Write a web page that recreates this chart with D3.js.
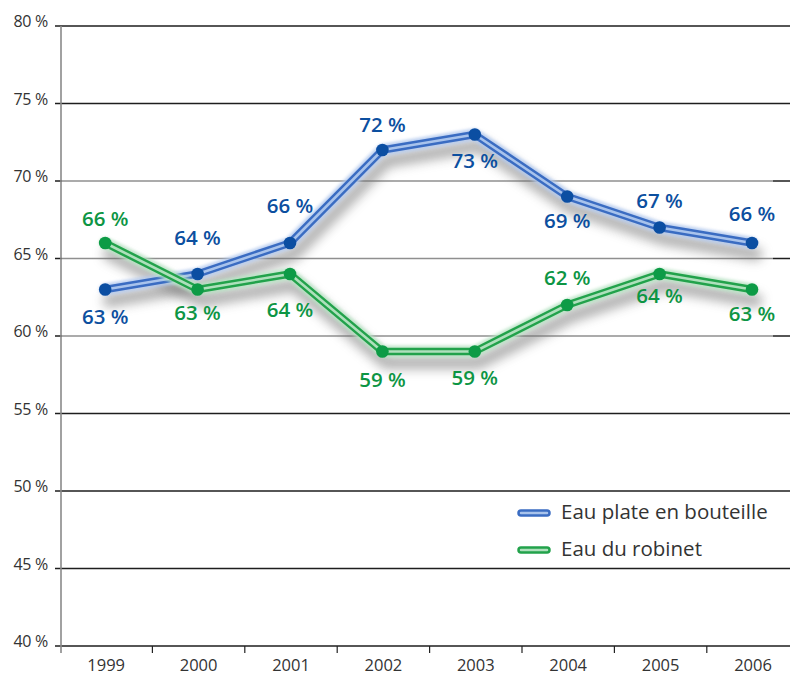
<!DOCTYPE html>
<html>
<head>
<meta charset="utf-8">
<script src="https://cdn.jsdelivr.net/npm/d3@7"></script>
<style>
  html, body { margin: 0; padding: 0; background: #fff; }
  svg { display: block; }
  text { font-family: "Open Sans", "Noto Sans", sans-serif; }
</style>
</head>
<body>
<svg id="chart" width="790" height="676"></svg>
<script>
// Share of respondents, by year
const years = ["1999", "2000", "2001", "2002", "2003", "2004", "2005", "2006"];
const bottled = [63, 64, 66, 72, 73, 69, 67, 66];   // Eau plate en bouteille
const tap     = [66, 63, 64, 59, 59, 62, 64, 63];   // Eau du robinet
const yTicks  = [40, 45, 50, 55, 60, 65, 70, 75, 80];
const seriesNames = ["Eau plate en bouteille", "Eau du robinet"];

// Vertical offset of each value label from its point (px, baseline)
const bottledLabelDy = [34, -29, -30, -18, 33, 31, -20, -22];
const tapLabelDy     = [-17, 30, 43, 35, 33, -20, 29, 31];

const svg = d3.select("#chart");
const W = 790, H = 676;
const plotLeft = 60, plotTop = 26, plotBottom = 646;
const bandW = 92.4;

const x = d3.scaleBand().domain(years).range([plotLeft, plotLeft + bandW * years.length]).padding(0);
const y = d3.scaleLinear().domain([40, 80]).range([plotBottom, plotTop]);
const cx = d => x(d) + x.bandwidth() / 2 - 1;

const defs = svg.append("defs");
defs.append("filter").attr("id", "shadowBlur")
  .attr("x", "-20%").attr("y", "-50%").attr("width", "140%").attr("height", "200%")
  .append("feGaussianBlur").attr("stdDeviation", 5.5);
defs.append("filter").attr("id", "glow")
  .attr("x", "-20%").attr("y", "-50%").attr("width", "140%").attr("height", "200%")
  .append("feGaussianBlur").attr("stdDeviation", 1.4);

// Horizontal gridlines
svg.append("g").selectAll("line").data(yTicks).join("line")
  .attr("x1", 55).attr("x2", W)
  .attr("y1", d => y(d)).attr("y2", d => y(d))
  .attr("stroke", "#1e1e1e").attr("stroke-width", 1.3);

// Y tick labels
svg.append("g").selectAll("text").data(yTicks).join("text")
  .attr("x", 48).attr("y", d => y(d) + 1)
  .attr("text-anchor", "end")
  .attr("font-size", 16).attr("fill", "#333")
  .attr("letter-spacing", -0.3)
  .text(d => d + " %");

// Vertical axis
svg.append("line")
  .attr("x1", plotLeft + 1).attr("x2", plotLeft + 1)
  .attr("y1", plotTop).attr("y2", plotBottom + 7)
  .attr("stroke", "#8a8a8a").attr("stroke-width", 1.6);

// X axis ticks at band edges
svg.append("g").selectAll("line").data(years.slice(1)).join("line")
  .attr("x1", d => x(d)).attr("x2", d => x(d))
  .attr("y1", plotBottom).attr("y2", plotBottom + 7)
  .attr("stroke", "#222").attr("stroke-width", 1.2);

// X labels
svg.append("g").selectAll("text").data(years).join("text")
  .attr("x", d => x(d) + x.bandwidth() / 2)
  .attr("y", 671)
  .attr("text-anchor", "middle")
  .attr("font-size", 16.5).attr("fill", "#333")
  .text(d => d);

// Soft backdrop behind the lines
svg.append("rect")
  .attr("x", plotLeft + 2).attr("y", 145).attr("width", 773 - plotLeft - 2).attr("height", 225)
  .attr("fill", "#fff").attr("opacity", 0.5);

const line = d3.line().x((d, i) => cx(years[i])).y(d => y(d));

const series = [
  { values: bottled, dy: bottledLabelDy, outer: "#3a6cc2", inner: "#a8c3ec", halo: "#b4caef", dot: "#0b4ea2", label: "#0c4f9f" },
  { values: tap,     dy: tapLabelDy,     outer: "#22a24b", inner: "#aee0bc", halo: "#b8e4c4", dot: "#0d9b46", label: "#0d9544" }
];

// Drop shadows
series.forEach(s => {
  svg.append("path").datum(s.values)
    .attr("d", line)
    .attr("transform", "translate(4,11)")
    .attr("fill", "none").attr("stroke", "#707070").attr("stroke-width", 13)
    .attr("stroke-linejoin", "round").attr("stroke-linecap", "round")
    .attr("opacity", 0.55)
    .attr("filter", "url(#shadowBlur)");
});

// Tube-styled lines
series.forEach(s => {
  const g = svg.append("g");
  g.append("path").datum(s.values).attr("d", line)
    .attr("fill", "none").attr("stroke", s.halo).attr("stroke-width", 12)
    .attr("stroke-linejoin", "round").attr("stroke-linecap", "round")
    .attr("opacity", 0.85).attr("filter", "url(#glow)");
  g.append("path").datum(s.values).attr("d", line)
    .attr("fill", "none").attr("stroke", s.outer).attr("stroke-width", 7.5)
    .attr("stroke-linejoin", "round").attr("stroke-linecap", "round");
  g.append("path").datum(s.values).attr("d", line)
    .attr("fill", "none").attr("stroke", s.inner).attr("stroke-width", 2.6)
    .attr("stroke-linejoin", "round").attr("stroke-linecap", "round");
  g.selectAll("circle").data(s.values).join("circle")
    .attr("cx", (d, i) => cx(years[i])).attr("cy", d => y(d))
    .attr("r", 6.3).attr("fill", s.dot);
});

// Value labels
series.forEach(s => {
  svg.append("g").selectAll("text").data(s.values).join("text")
    .attr("x", (d, i) => cx(years[i]))
    .attr("y", (d, i) => y(d) + s.dy[i])
    .attr("text-anchor", "middle")
    .attr("font-size", 20.5).attr("font-weight", 600)
    .attr("fill", s.label)
    .text(d => d + " %");
});

// Legend
const legend = svg.append("g");
series.forEach((s, i) => {
  const ly = 513 + i * 37;
  const row = legend.append("g");
  row.append("line").attr("x1", 521).attr("x2", 547).attr("y1", ly).attr("y2", ly)
    .attr("stroke", s.halo).attr("stroke-width", 12).attr("stroke-linecap", "round")
    .attr("opacity", 0.85).attr("filter", "url(#glow)");
  row.append("line").attr("x1", 521).attr("x2", 547).attr("y1", ly).attr("y2", ly)
    .attr("stroke", s.outer).attr("stroke-width", 7.5).attr("stroke-linecap", "round");
  row.append("line").attr("x1", 521).attr("x2", 547).attr("y1", ly).attr("y2", ly)
    .attr("stroke", s.inner).attr("stroke-width", 2.5).attr("stroke-linecap", "round");
  row.append("text").attr("x", 561).attr("y", ly + 6)
    .attr("font-size", 20.5).attr("fill", "#333")
    .text(seriesNames[i]);
});
</script>
</body>
</html>
